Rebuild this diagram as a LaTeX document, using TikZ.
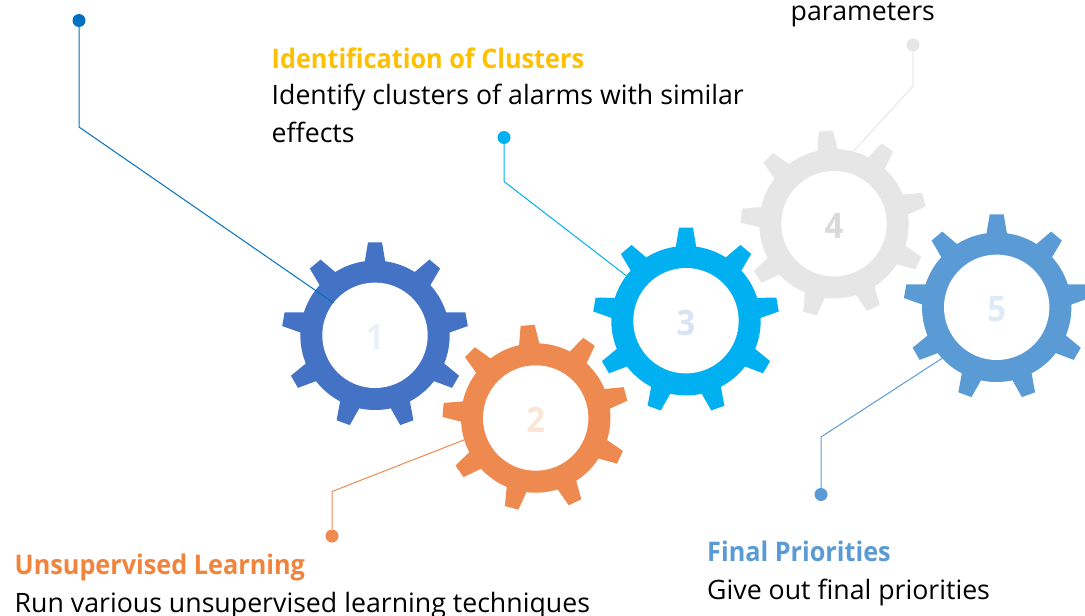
\documentclass[tikz,border=0pt]{standalone}
\usepackage{fontspec}
\setmainfont{Open Sans}[BoldFeatures={FakeStretch=0.935}]
\definecolor{cA}{HTML}{4472C4}
\definecolor{cB}{HTML}{EE8950}
\definecolor{cC}{HTML}{00B0F0}
\definecolor{cD}{HTML}{E6E6E6}
\definecolor{cE}{HTML}{5B9BD5}
\definecolor{lA}{HTML}{0070C0}
\definecolor{nA}{HTML}{EDF0F7}
\definecolor{nB}{HTML}{FBE5D6}
\definecolor{nC}{HTML}{DAE3F3}
\definecolor{nD}{HTML}{D9D9D9}
\definecolor{nE}{HTML}{DEEBF7}
\definecolor{hA}{HTML}{FFC000}
\definecolor{hB}{HTML}{F0843C}
\newcommand{\gearnum}[1]{\raisebox{-2.5pt}[24pt][0pt]{#1}}
\tikzset{
  gearbody/.style={circle,draw=none,inner sep=0pt,minimum size=149.4pt,fill=#1},
  gearhole/.style={circle,draw=none,fill=white,inner sep=0pt,minimum size=105.4pt,font=\bfseries\fontsize{35}{35}\selectfont,text=#1},
  pin/.style={circle,draw=none,inner sep=0pt,minimum size=13pt,fill=#1},
  lead/.style={draw=#1,line width=1pt},
  headtext/.style={anchor=base west,inner sep=0pt,font=\bfseries\fontsize{27}{30}\selectfont,text=#1},
  bodytext/.style={anchor=base west,inner sep=0pt,font=\fontsize{26.7}{30}\selectfont,text=black},
}
\newcommand{\cogwheel}[5]{%
  \begin{scope}[shift={(#2,#3)}]
    \foreach \k in {0,...,8}
      \fill[#5,rotate=#4+90+\k*40] (68,-11.2)--(93,-7)--(93,7)--(68,11.2)--cycle;
  \end{scope}
  \node[gearbody=#5] (b#1) at (#2,#3) {};
}
\begin{document}
\begin{tikzpicture}[x=1pt,y=-1pt]
\useasboundingbox (0,0) rectangle (1085,616);
\clip (0,0) rectangle (1085,616);
% gears
\cogwheel{1}{375}{335.3}{0}{cA}
\cogwheel{2}{535.7}{418}{5}{cB}
\cogwheel{4}{834}{223.7}{5}{cD}
\cogwheel{3}{686}{320.7}{0}{cC}
\cogwheel{5}{996.7}{307.3}{0}{cE}
\node[gearhole=nA] (g1) at (b1.center) {\gearnum{1}};
\node[gearhole=nB] (g2) at (b2.center) {\gearnum{2}};
\node[gearhole=nC] (g3) at (b3.center) {\gearnum{3}};
\node[gearhole=nD] (g4) at (b4.center) {\gearnum{4}};
\node[gearhole=nE] (g5) at (b5.center) {\gearnum{5}};
% pins
\node[pin=lA] (p1) at (79,20.5) {};
\node[pin=cB] (p2) at (332,536) {};
\node[pin=cC] (p3) at (504,137.5) {};
\node[pin=cD] (p4) at (913,45) {};
\node[pin=cE] (p5) at (821,494.5) {};
\coordinate (k1) at (79,127);
\coordinate (k2) at (332,491.5);
\coordinate (k3) at (504,181.5);
\coordinate (k4) at (913,86);
\coordinate (k5) at (821,437);
% leaders
\draw[lead=lA] (p1) -- (k1) -- (g1.142);
\draw[lead=cB] (p2) -- (k2) -- (b2.197);
\draw[lead=cC] (p3) -- (k3) -- (b3.143.3);
\draw[lead=cD] (p4) -- (k4) -- (b4.75.2);
\draw[lead=cE] (p5) -- (k5) -- (b5.223.5);
% text
\node[headtext=hA] (t3h) at (271.5,68) {Identification of Clusters};
\node[bodytext] (t3a) at (271.5,104.7) {Identify clusters of alarms with similar};
\node[bodytext] (t3b) at (271.5,142.4) {effects};
\node[bodytext] (t4b) at (790.5,20.5) {parameters};
\node[headtext=hB] (t2h) at (14.5,574.7) {Unsupervised Learning};
\node[bodytext] (t2a) at (14.5,612.4) {Run various unsupervised learning techniques};
\node[headtext=cE] (t5h) at (707,561.4) {Final Priorities};
\node[bodytext] (t5a) at (707,599) {Give out final priorities};
\end{tikzpicture}
\end{document}
